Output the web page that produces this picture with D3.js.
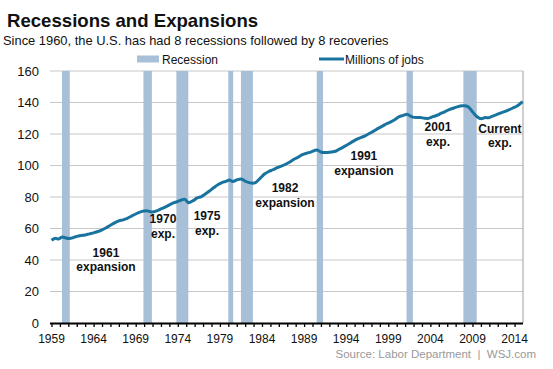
<!DOCTYPE html>
<html><head><meta charset="utf-8">
<script src="https://cdn.jsdelivr.net/npm/d3@7"></script>
<style>
body{margin:0;background:#fff;}
svg{display:block;font-family:"Liberation Sans",Arial,sans-serif;}
</style></head>
<body><svg id="c" width="553" height="369"></svg>
<script>
// Data
const jobDates = [1959.0,1959.5,1959.8,1960.3,1960.7,1961.1,1961.6,1962.0,1962.5,1963.0,1963.5,1964.0,1964.5,1965.0,1965.5,1966.0,1966.5,1967.0,1967.5,1968.0,1968.5,1969.0,1969.5,1970.0,1970.3,1970.9,1971.5,1972.0,1972.5,1973.0,1973.5,1973.9,1974.5,1974.8,1975.3,1975.8,1976.3,1976.8,1977.3,1977.8,1978.3,1978.8,1979.3,1979.8,1980.1,1980.55,1981.0,1981.55,1982.0,1982.9,1983.3,1983.8,1984.3,1984.8,1985.3,1985.8,1986.3,1986.8,1987.3,1987.8,1988.3,1988.8,1989.3,1989.8,1990.5,1991.0,1991.3,1991.8,1992.3,1992.8,1993.3,1993.8,1994.3,1994.8,1995.3,1995.8,1996.3,1996.8,1997.3,1997.8,1998.3,1998.8,1999.3,1999.8,2000.3,2000.8,2001.2,2001.9,2002.3,2002.8,2003.3,2003.7,2004.3,2004.8,2005.3,2005.8,2006.3,2006.8,2007.3,2007.8,2008.0,2008.5,2009.0,2009.5,2010.1,2010.5,2010.9,2011.3,2011.8,2012.3,2012.8,2013.3,2013.8,2014.3,2014.95];
const jobs = [52.5,53.8,53.3,54.6,54.0,53.7,54.2,55.0,55.6,55.9,56.6,57.2,58.1,59.2,60.5,62.1,63.6,64.8,65.5,66.5,67.9,69.2,70.4,71.1,71.2,70.5,71.2,72.4,73.6,75.0,76.3,77.0,78.3,78.6,76.4,77.6,79.4,80.3,82.0,84.0,86.0,87.9,89.3,90.1,90.8,89.8,90.9,91.5,90.0,88.8,89.4,92.0,94.6,96.2,97.3,98.6,99.6,100.8,102.2,104.0,105.3,106.9,107.8,108.5,109.8,108.6,108.3,108.3,108.6,109.2,110.7,112.1,113.6,115.3,116.8,117.8,119.0,120.5,122.0,123.6,125.0,126.5,127.7,129.2,131.0,131.8,132.5,130.7,130.5,130.5,130.0,129.9,131.0,131.9,133.2,134.4,135.7,136.5,137.4,137.9,138.0,137.2,134.1,131.1,129.7,130.4,130.3,131.2,132.1,133.2,134.2,135.3,136.5,137.8,140.6];
const recessionStart = [1960.25,1969.92,1973.83,1980.0,1981.5,1990.5,2001.17,2007.92];
const recessionEnd   = [1961.17,1970.92,1975.25,1980.58,1982.92,1991.25,2001.92,2009.5];
const yTicks = [0,20,40,60,80,100,120,140,160];
const xLabelYears = [1959,1964,1969,1974,1979,1984,1989,1994,1999,2004,2009,2014];
const annotYear = [1965.47,1972.24,1977.47,1986.73,1996.11,2004.9,2012.26];
const annotLine1 = ["1961","1970","1975","1982","1991","2001","Current"];
const annotLine2 = ["expansion","exp.","exp.","expansion","expansion","exp.","exp."];
const annotVal = [42.2,63.2,65.1,82.9,103.4,121.8,120.8];

const svg = d3.select("#c");
const L=50, R=523, T=71, B=323;
const x = d3.scaleLinear().domain([1959,2015]).range([L+1.5,R]);
const y = d3.scaleLinear().domain([0,160]).range([B,T]);

// Title
svg.append("text").attr("x",7).attr("y",27).attr("font-size",18.6).attr("font-weight","bold").attr("fill","#111").text("Recessions and Expansions");
svg.append("text").attr("x",3).attr("y",45).attr("font-size",12.9).attr("fill","#111").text("Since 1960, the U.S. has had 8 recessions followed by 8 recoveries");

// gridlines
svg.append("g").selectAll("line").data(yTicks.filter(d=>d>0)).join("line")
  .attr("x1",L).attr("x2",R).attr("y1",d=>y(d)).attr("y2",d=>y(d))
  .attr("stroke","#c8c8c8").attr("stroke-width",1.2);
// right border
svg.append("line").attr("x1",R).attr("x2",R).attr("y1",y(160)).attr("y2",B).attr("stroke","#b0b0b0").attr("stroke-width",1.2);

// recessions
svg.append("g").selectAll("rect").data(recessionStart).join("rect")
  .attr("x",(d)=>x(d)).attr("width",(d,i)=>x(recessionEnd[i])-x(d))
  .attr("y",y(160)).attr("height",y(0)-y(160)).attr("fill","#a7bfd7");

// line
const line = d3.line().x((d,i)=>x(jobDates[i])).y(d=>y(d)).curve(d3.curveMonotoneX);
svg.append("path").datum(jobs).attr("d",line).attr("fill","none").attr("stroke","#18749f").attr("stroke-width",3).attr("stroke-linejoin","round");

// y axis labels
svg.append("g").selectAll("text").data(yTicks).join("text")
  .attr("x",39).attr("y",d=>y(d)+4.5).attr("text-anchor","end").attr("font-size",13).attr("fill","#111").text(d=>d);

// x axis
const xAxis = d3.axisBottom(x).tickValues(d3.range(1959,2015)).tickSize(4).tickFormat("");
const gx = svg.append("g").attr("transform",`translate(0,${B})`).call(xAxis);
gx.select(".domain").attr("stroke","#000").attr("stroke-width",2).attr("d",`M${L},0.5H${R}`);
gx.selectAll(".tick line").attr("stroke","#000").attr("stroke-width",1.3);
svg.append("g").selectAll("text").data(xLabelYears).join("text")
  .attr("x",d=>x(d)).attr("y",343).attr("text-anchor","middle").attr("font-size",12).attr("fill","#111").text(d=>d);

// legend
svg.append("rect").attr("x",137).attr("y",55.5).attr("width",22).attr("height",7).attr("fill","#a7bfd7");
svg.append("text").attr("x",162).attr("y",63.5).attr("font-size",12).attr("fill","#111").text("Recession");
svg.append("line").attr("x1",319).attr("x2",344).attr("y1",59).attr("y2",59).attr("stroke","#18749f").attr("stroke-width",3);
svg.append("text").attr("x",345).attr("y",63.5).attr("font-size",12).attr("fill","#111").text("Millions of jobs");

// annotations
const ann = svg.append("g").attr("font-weight","bold").attr("font-size",12).attr("fill","#111").attr("text-anchor","middle");
annotYear.forEach((yr,i)=>{
  const t = ann.append("text").attr("x",x(yr)).attr("y",y(annotVal[i]));
  t.append("tspan").attr("x",x(yr)).attr("dy",0).text(annotLine1[i]);
  t.append("tspan").attr("x",x(yr)).attr("dy",14.5).text(annotLine2[i]);
});

// source
svg.append("text").attr("x",536).attr("y",358).attr("text-anchor","end").attr("font-size",11.5).attr("fill","#999").style("white-space","pre").text("Source: Labor Department  |  WSJ.com");
</script></body></html>
